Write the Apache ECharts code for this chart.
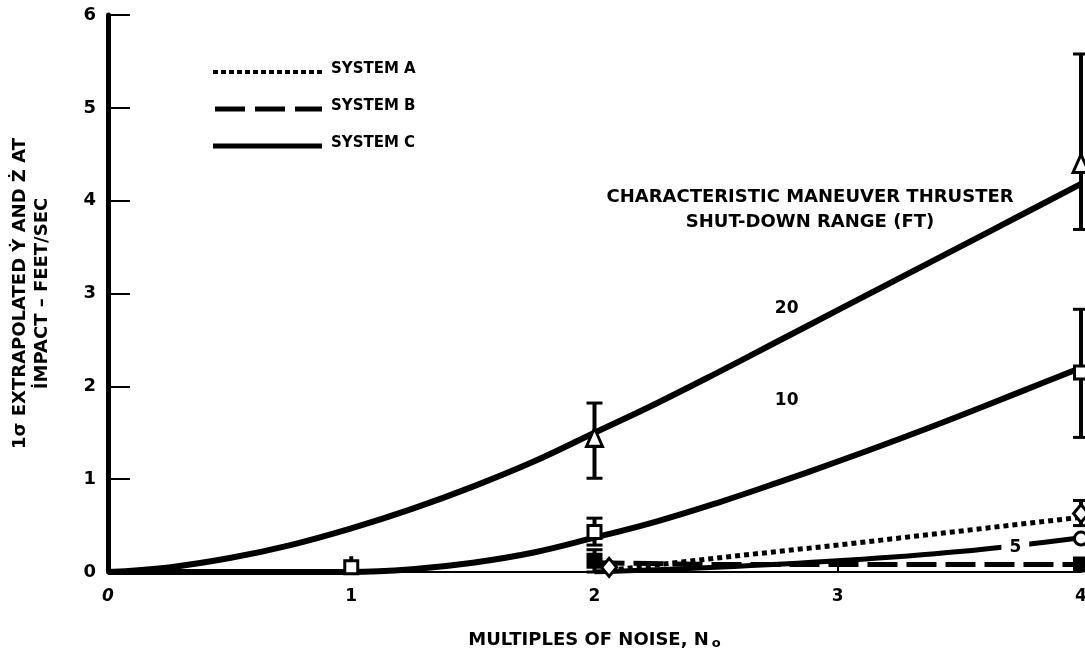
<!DOCTYPE html>
<html>
<head>
<meta charset="utf-8">
<script src="https://cdn.jsdelivr.net/npm/echarts@6/dist/echarts.min.js"></script>
<style>html,body{margin:0;padding:0;background:#fff;}#c{width:1085px;height:654px;}</style>
</head>
<body>
<div id="c"></div>
<script>
// ---- data ----
const xTicks = [0, 1, 2, 3, 4];
const yTicks = [0, 1, 2, 3, 4, 5, 6];

// System C, 20 ft
const c20X = [0, 0.25, 0.5, 0.75, 1, 1.25, 1.5, 1.75, 2, 2.25, 2.5, 2.75, 3, 3.25, 3.5, 3.75, 4];
const c20Y = [0, 0.05, 0.15, 0.29, 0.47, 0.68, 0.92, 1.19, 1.5, 1.81, 2.14, 2.48, 2.82, 3.16, 3.5, 3.84, 4.18];
// System C, 10 ft
const c10X = [0, 0.5, 1, 1.25, 1.5, 1.75, 2, 2.25, 2.5, 2.75, 3, 3.25, 3.5, 3.75, 4];
const c10Y = [0, 0, 0, 0.03, 0.1, 0.21, 0.37, 0.54, 0.74, 0.96, 1.19, 1.43, 1.68, 1.94, 2.2];
// System C, 5 ft
const c5X = [2, 2.5, 3, 3.5, 4];
const c5Y = [0.0, 0.05, 0.12, 0.22, 0.37];
// System A (dotted)
const aX = [2.1, 2.5, 3, 3.5, 4];
const aY = [0.03, 0.15, 0.29, 0.44, 0.59];
// System B (dashed)
const bX = [2, 2.5, 3, 3.5, 4];
const bY = [0.1, 0.08, 0.08, 0.08, 0.08];

// measured points
const triangleOpen = [[2, 1.45], [4, 4.4]];
const squareOpen = [[1, 0.05], [2, 0.43], [4, 2.15]];
const squareFilled = [[2, 0.12], [4, 0.08]];
const circleOpen = [[4, 0.36]];
const diamondOpen = [[2.06, 0.05], [4, 0.63]];

// error bars [x, low, high]
const errCapped = [[2, 1.01, 1.82], [4, 3.69, 5.58], [2, 0.29, 0.58], [4, 1.45, 2.83], [2, 0.0, 0.24], [4, 0.5, 0.77]];
const errPlain = [[1, 0.05, 0.17], [4, 0.0, 0.16]];

// curve labels [x, y, text]
const curveLabels = [[2.79, 2.84, '20'], [2.79, 1.85, '10'], [3.73, 0.26, '5']];

const legendNames = ['SYSTEM A', 'SYSTEM B', 'SYSTEM C'];
const noteLines = ['CHARACTERISTIC MANEUVER THRUSTER', 'SHUT-DOWN RANGE (FT)'];
const yName = ['1σ EXTRAPOLATED Ẏ AND Ż AT', 'İMPACT – FEET/SEC'];

// ---- chart ----
const FONT = 'DejaVu Sans';
const zip = (xs, ys) => xs.map((x, i) => [x, ys[i]]);

function barRenderer(withCaps) {
  return function (params, api) {
    const x = api.value(0), lo = api.value(1), hi = api.value(2);
    const p1 = api.coord([x, lo]), p2 = api.coord([x, hi]);
    const w = 8;
    const children = [
      { type: 'line', shape: { x1: p1[0], y1: p1[1], x2: p2[0], y2: p2[1] }, style: { stroke: '#000', lineWidth: 4 } }
    ];
    if (withCaps) {
      children.push({ type: 'line', shape: { x1: p1[0] - w, y1: p1[1], x2: p1[0] + w, y2: p1[1] }, style: { stroke: '#000', lineWidth: 3 } });
      children.push({ type: 'line', shape: { x1: p2[0] - w, y1: p2[1], x2: p2[0] + w, y2: p2[1] }, style: { stroke: '#000', lineWidth: 3 } });
    }
    return { type: 'group', children };
  };
}

const lineBase = { type: 'line', smooth: 0.4, showSymbol: false, symbol: 'none', silent: true, z: 2 };
const markBase = { type: 'scatter', itemStyle: { color: '#fff', borderColor: '#000', borderWidth: 3, opacity: 1 }, z: 6, clip: false, silent: true };

const chart = echarts.init(document.getElementById('c'), null, { renderer: 'canvas' });
chart.setOption({
  backgroundColor: '#fff',
  animation: false,
  textStyle: { fontFamily: FONT },
  grid: { left: 108, right: 4, top: 15, bottom: 82, containLabel: false, outerBoundsMode: 'none' },
  xAxis: {
    type: 'value', min: xTicks[0], max: xTicks[xTicks.length - 1], interval: 1,
    axisLine: { show: true, lineStyle: { color: '#000', width: 2 } },
    axisTick: { show: true, inside: true, length: 9, lineStyle: { color: '#000', width: 2 } },
    splitLine: { show: false },
    axisLabel: {
      margin: 16, color: '#000', fontFamily: FONT, fontWeight: 'bold', fontSize: 17,
      formatter: v => v === 0 ? '{i|0}' : String(v),
      rich: { i: { fontStyle: 'italic', fontWeight: 'bold', fontSize: 17, fontFamily: FONT, color: '#000' } }
    },
    name: 'MULTIPLES OF NOISE, N{s|o}',
    nameLocation: 'middle', nameGap: 58,
    nameTextStyle: {
      color: '#000', fontFamily: FONT, fontWeight: 'bold', fontSize: 18,
      rich: { s: { fontSize: 13, fontWeight: 'bold', fontFamily: FONT, color: '#000', padding: [7, 0, 0, 3] } }
    }
  },
  yAxis: {
    type: 'value', min: yTicks[0], max: yTicks[yTicks.length - 1], interval: 1,
    axisLine: { show: true, lineStyle: { color: '#000', width: 5 } },
    axisTick: { show: true, inside: true, length: 22, lineStyle: { color: '#000', width: 2 } },
    splitLine: { show: false },
    axisLabel: { margin: 12, color: '#000', fontFamily: FONT, fontWeight: 'bold', fontSize: 18 },
    name: yName.join('\n'),
    nameLocation: 'middle', nameRotate: 90, nameGap: 55,
    nameTextStyle: { color: '#000', fontFamily: FONT, fontWeight: 'bold', fontSize: 18, lineHeight: 22, align: 'center' }
  },
  graphic: [
    { type: 'line', shape: { x1: 213, y1: 72, x2: 322, y2: 72 }, style: { stroke: '#000', lineWidth: 4, lineDash: [5, 3] } },
    { type: 'line', shape: { x1: 215, y1: 109, x2: 322, y2: 109 }, style: { stroke: '#000', lineWidth: 5, lineDash: [30, 10] } },
    { type: 'line', shape: { x1: 213, y1: 146, x2: 322, y2: 146 }, style: { stroke: '#000', lineWidth: 5 } },
    { type: 'text', left: 331, top: 62, style: { text: legendNames[0], font: 'bold 15px "DejaVu Sans"', fill: '#000' } },
    { type: 'text', left: 331, top: 99, style: { text: legendNames[1], font: 'bold 15px "DejaVu Sans"', fill: '#000' } },
    { type: 'text', left: 331, top: 136, style: { text: legendNames[2], font: 'bold 15px "DejaVu Sans"', fill: '#000' } },
    { type: 'text', x: 810, y: 197, style: { text: noteLines[0], font: 'bold 18px "DejaVu Sans"', fill: '#000', align: 'center', verticalAlign: 'middle' } },
    { type: 'text', x: 810, y: 222, style: { text: noteLines[1], font: 'bold 18px "DejaVu Sans"', fill: '#000', align: 'center', verticalAlign: 'middle' } }
  ],
  series: [
    Object.assign({}, lineBase, { name: 'C20', data: zip(c20X, c20Y), lineStyle: { color: '#000', width: 6 } }),
    Object.assign({}, lineBase, { name: 'C10', data: zip(c10X, c10Y), lineStyle: { color: '#000', width: 6 } }),
    Object.assign({}, lineBase, { name: 'C5', data: zip(c5X, c5Y), lineStyle: { color: '#000', width: 5 } }),
    Object.assign({}, lineBase, { name: 'A', smooth: false, data: zip(aX, aY), lineStyle: { color: '#000', width: 5, type: [5, 4], cap: 'butt' } }),
    Object.assign({}, lineBase, { name: 'B', smooth: false, data: zip(bX, bY), lineStyle: { color: '#000', width: 5, type: [30, 9], cap: 'butt' } }),
    { type: 'custom', name: 'errCapped', data: errCapped, renderItem: barRenderer(true), encode: { x: 0, y: [1, 2] }, z: 4, clip: false, silent: true },
    { type: 'custom', name: 'errPlain', data: errPlain, renderItem: barRenderer(false), encode: { x: 0, y: [1, 2] }, z: 4, clip: false, silent: true },
    Object.assign({}, markBase, { name: 'tri', symbol: 'triangle', symbolSize: [16, 18], data: triangleOpen }),
    Object.assign({}, markBase, { name: 'sq', symbol: 'rect', symbolSize: 13, data: squareOpen }),
    Object.assign({}, markBase, { name: 'sqf', symbol: 'rect', symbolSize: 14, data: squareFilled, itemStyle: { color: '#000', borderColor: '#000', borderWidth: 2, opacity: 1 } }),
    Object.assign({}, markBase, { name: 'circ', symbol: 'circle', symbolSize: 13, data: circleOpen }),
    Object.assign({}, markBase, { name: 'dia', symbol: 'diamond', symbolSize: [15, 18], data: diamondOpen }),
    {
      type: 'scatter', name: 'labels', symbolSize: 0, z: 8, silent: true, clip: false,
      itemStyle: { opacity: 1 },
      data: curveLabels.map(d => ({
        value: d,
        label: {
          show: true, position: 'inside', formatter: d[2], color: '#000', opacity: 1,
          fontFamily: FONT, fontWeight: 'bold', fontSize: 17,
          backgroundColor: d[2] === '5' ? '#fff' : 'transparent', padding: d[2] === '5' ? [2, 8] : 0
        }
      }))
    }
  ]
});
</script>
</body>
</html>
